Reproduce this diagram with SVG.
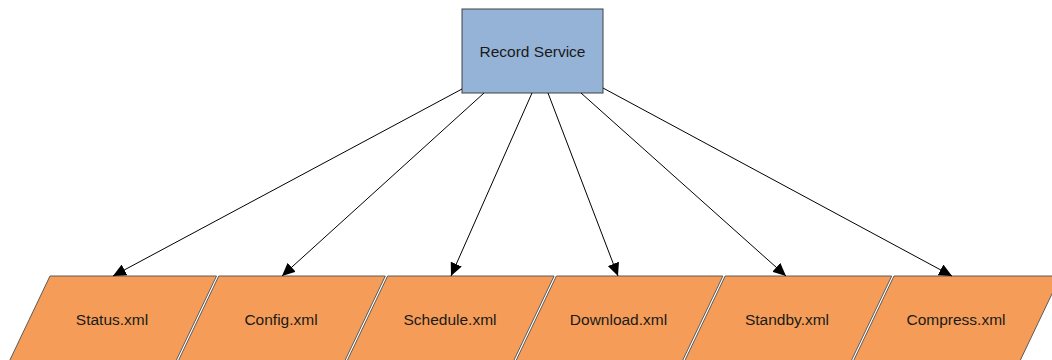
<svg xmlns="http://www.w3.org/2000/svg" width="1052" height="360" viewBox="0 0 1052 360">
  <style>
    .svc { fill: #95B3D7; stroke: #404040; stroke-width: 1; }
    .file { fill: #F59D58; stroke: #5A5A5A; stroke-width: 1; }
    .label { font-family: "Liberation Sans", Arial, sans-serif; font-size: 15.5px; fill: #1a1a1a; text-anchor: middle; }
    .edge { stroke: #000; stroke-width: 1; fill: none; marker-end: url(#arrow); }
  </style>
  <defs>
    <marker id="arrow" markerUnits="userSpaceOnUse" markerWidth="14" markerHeight="12" viewBox="0 0 14 12" refX="13" refY="6" orient="auto">
      <path d="M0,0 L13,6 L0,12 Z" fill="#000"/>
    </marker>
  </defs>
  <rect width="1052" height="360" fill="#fff"/>

  <!-- source service -->
  <g id="record-service">
    <rect class="svc" x="462" y="9" width="141" height="84"/>
    <text class="label" x="532.5" y="56.5">Record Service</text>
  </g>

  <!-- data files (parallelograms, skewed to the left) -->
  <g id="status-xml">
    <polygon class="file" points="50,276 216.5,276 174.5,364 8,364"/>
    <text class="label" x="112" y="324.5">Status.xml</text>
  </g>
  <g id="config-xml">
    <polygon class="file" points="218.8,276 385.3,276 343.3,364 176.8,364"/>
    <text class="label" x="281" y="324.5">Config.xml</text>
  </g>
  <g id="schedule-xml">
    <polygon class="file" points="387.6,276 554.1,276 512.1,364 345.6,364"/>
    <text class="label" x="450" y="324.5">Schedule.xml</text>
  </g>
  <g id="download-xml">
    <polygon class="file" points="556.4,276 722.9,276 680.9,364 514.4,364"/>
    <text class="label" x="618.5" y="324.5">Download.xml</text>
  </g>
  <g id="standby-xml">
    <polygon class="file" points="725.2,276 891.7,276 849.7,364 683.2,364"/>
    <text class="label" x="787" y="324.5">Standby.xml</text>
  </g>
  <g id="compress-xml">
    <polygon class="file" points="894,276 1060.5,276 1018.5,364 852,364"/>
    <text class="label" x="956" y="324.5">Compress.xml</text>
  </g>

  <!-- connectors -->
  <g id="connectors">
    <line class="edge" x1="462" y1="89" x2="113" y2="276"/>
    <line class="edge" x1="484" y1="93" x2="282" y2="276"/>
    <line class="edge" x1="532" y1="93" x2="451" y2="276"/>
    <line class="edge" x1="548" y1="93" x2="618" y2="276"/>
    <line class="edge" x1="581" y1="93" x2="786" y2="276"/>
    <line class="edge" x1="603" y1="88" x2="952" y2="276"/>
  </g>
</svg>
